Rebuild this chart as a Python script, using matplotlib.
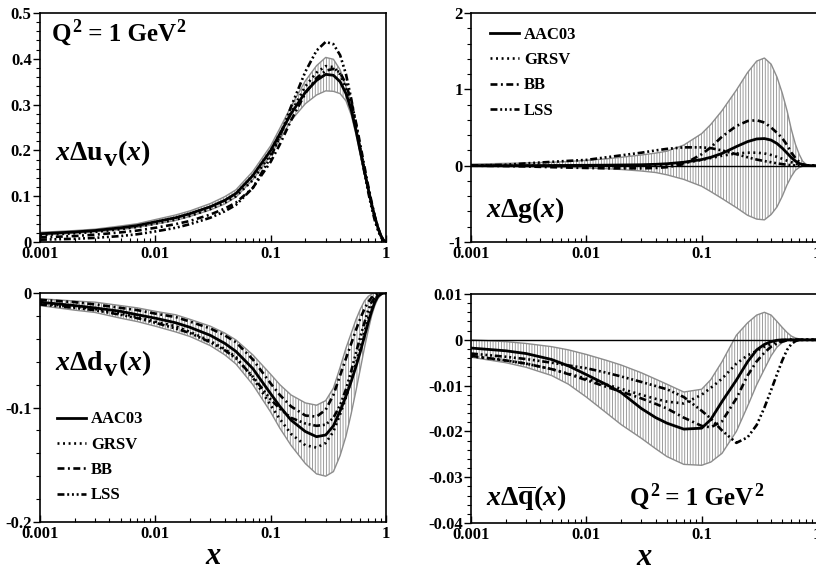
import matplotlib
matplotlib.use('Agg')
import matplotlib.pyplot as plt
from matplotlib.ticker import FixedLocator, LogLocator, NullFormatter, MultipleLocator
from matplotlib.transforms import offset_copy

plt.rcParams['font.family'] = ['Liberation Serif', 'DejaVu Serif']
plt.rcParams['font.weight'] = 'bold'
plt.rcParams['axes.unicode_minus'] = False
plt.rcParams['mathtext.fontset'] = 'custom'
plt.rcParams['mathtext.rm'] = 'Liberation Serif:bold'
plt.rcParams['mathtext.bf'] = 'Liberation Serif:bold'
plt.rcParams['mathtext.it'] = 'Liberation Serif:italic'
plt.rcParams['hatch.linewidth'] = 0.6
plt.rcParams['lines.scale_dashes'] = False

# ---- x Delta u_v ----
x_uv = [0.001, 0.002, 0.003, 0.005, 0.007, 0.01, 0.015, 0.02, 0.03, 0.04, 0.05, 0.07, 0.1, 0.12, 0.15, 0.2,
        0.25, 0.3, 0.35, 0.4, 0.45, 0.5, 0.55, 0.6, 0.65, 0.7, 0.75, 0.8, 0.85, 0.9, 0.95, 1.0]
uv_aac = [0.018, 0.022, 0.025, 0.031, 0.036, 0.044, 0.053, 0.062, 0.077, 0.091, 0.106, 0.145, 0.200, 0.236, 0.280, 0.327,
          0.353, 0.366, 0.364, 0.350, 0.324, 0.288, 0.243, 0.197, 0.155, 0.117, 0.083, 0.055, 0.032, 0.015, 0.004, 0.0]
uv_hi = [0.021, 0.025, 0.028, 0.035, 0.040, 0.049, 0.059, 0.068, 0.084, 0.099, 0.114, 0.154, 0.210, 0.248, 0.296, 0.352,
         0.385, 0.403, 0.399, 0.376, 0.340, 0.299, 0.252, 0.205, 0.162, 0.123, 0.088, 0.059, 0.035, 0.017, 0.005, 0.0]
uv_lo = [0.015, 0.019, 0.022, 0.027, 0.032, 0.039, 0.047, 0.056, 0.070, 0.083, 0.098, 0.136, 0.190, 0.224, 0.265, 0.302,
         0.321, 0.330, 0.329, 0.324, 0.308, 0.277, 0.234, 0.189, 0.148, 0.111, 0.078, 0.051, 0.029, 0.013, 0.003, 0.0]
uv_grsv = [0.015, 0.019, 0.022, 0.028, 0.033, 0.040, 0.049, 0.057, 0.072, 0.086, 0.100, 0.135, 0.192, 0.232, 0.283, 0.340,
           0.370, 0.384, 0.382, 0.366, 0.336, 0.296, 0.250, 0.202, 0.158, 0.118, 0.083, 0.054, 0.031, 0.014, 0.004, 0.0]
uv_bb = [0.010, 0.013, 0.016, 0.021, 0.025, 0.031, 0.039, 0.046, 0.060, 0.073, 0.086, 0.118, 0.175, 0.213, 0.265, 0.325,
         0.358, 0.374, 0.378, 0.370, 0.345, 0.307, 0.260, 0.211, 0.165, 0.123, 0.087, 0.056, 0.032, 0.014, 0.004, 0.0]
uv_lss = [0.005, 0.007, 0.009, 0.013, 0.017, 0.023, 0.031, 0.039, 0.053, 0.067, 0.081, 0.118, 0.185, 0.230, 0.295, 0.372,
          0.418, 0.437, 0.432, 0.408, 0.366, 0.312, 0.255, 0.200, 0.152, 0.110, 0.075, 0.047, 0.026, 0.011, 0.003, 0.0]

# ---- x Delta g ----
x_g = x_uv
g_aac = [0.0, 0.0, 0.001, 0.002, 0.003, 0.005, 0.007, 0.009, 0.012, 0.018, 0.025, 0.045, 0.08, 0.11, 0.16, 0.25,
         0.315, 0.35, 0.355, 0.335, 0.29, 0.23, 0.165, 0.105, 0.06, 0.03, 0.012, 0.004, 0.001, 0.0, 0.0, 0.0]
g_hi = [0.02, 0.03, 0.035, 0.045, 0.055, 0.07, 0.09, 0.11, 0.14, 0.165, 0.19, 0.27, 0.42, 0.54, 0.72, 0.99,
        1.22, 1.37, 1.41, 1.33, 1.16, 0.95, 0.72, 0.47, 0.28, 0.15, 0.06, 0.02, 0.005, 0.0, 0.0, 0.0]
g_lo = [-0.01, -0.012, -0.015, -0.02, -0.025, -0.03, -0.04, -0.05, -0.07, -0.09, -0.12, -0.18, -0.27, -0.34, -0.43, -0.55,
        -0.65, -0.70, -0.71, -0.64, -0.54, -0.40, -0.25, -0.14, -0.06, -0.025, -0.008, -0.002, 0.0, 0.0, 0.0, 0.0]
g_grsv = [0.0, 0.0, 0.0, 0.0, 0.0, 0.0, 0.0, 0.0, 0.003, 0.008, 0.015, 0.035, 0.075, 0.10, 0.13, 0.16,
          0.17, 0.17, 0.16, 0.14, 0.115, 0.09, 0.065, 0.045, 0.028, 0.015, 0.007, 0.003, 0.001, 0.0, 0.0, 0.0]
g_bb = [0.0, -0.005, -0.01, -0.02, -0.025, -0.03, -0.035, -0.035, -0.035, -0.03, -0.02, 0.02, 0.15, 0.24, 0.38, 0.52,
        0.585, 0.595, 0.565, 0.50, 0.43, 0.36, 0.27, 0.17, 0.10, 0.05, 0.02, 0.007, 0.002, 0.0, 0.0, 0.0]
g_lss = [0.0, 0.012, 0.03, 0.05, 0.063, 0.075, 0.11, 0.135, 0.17, 0.2, 0.22, 0.24, 0.24, 0.23, 0.20, 0.15,
         0.11, 0.08, 0.06, 0.045, 0.03, 0.02, 0.012, 0.006, 0.002, 0.0, 0.0, 0.0, 0.0, 0.0, 0.0, 0.0]

# ---- x Delta d_v ----
x_dv = x_uv
dv_aac = [-0.008, -0.011, -0.013, -0.016, -0.019, -0.022, -0.026, -0.030, -0.037, -0.044, -0.051, -0.066, -0.088, -0.099, -0.111, -0.121,
          -0.1255, -0.124, -0.116, -0.103, -0.090, -0.077, -0.064, -0.051, -0.038, -0.026, -0.016, -0.008, -0.003, -0.001, 0.0, 0.0]
dv_hi = [-0.005, -0.007, -0.008, -0.011, -0.013, -0.016, -0.019, -0.023, -0.029, -0.035, -0.041, -0.054, -0.071, -0.080, -0.089, -0.096,
         -0.098, -0.094, -0.083, -0.065, -0.048, -0.035, -0.023, -0.014, -0.007, -0.003, -0.001, 0.0, 0.0, 0.0, 0.0, 0.0]
dv_lo = [-0.011, -0.015, -0.017, -0.022, -0.025, -0.029, -0.034, -0.038, -0.046, -0.054, -0.062, -0.080, -0.104, -0.118, -0.133, -0.149,
         -0.158, -0.160, -0.156, -0.142, -0.125, -0.105, -0.085, -0.066, -0.048, -0.033, -0.020, -0.011, -0.005, -0.002, 0.0, 0.0]
dv_grsv = [-0.009, -0.012, -0.014, -0.018, -0.021, -0.025, -0.029, -0.034, -0.042, -0.049, -0.056, -0.074, -0.098, -0.110, -0.123, -0.133,
           -0.135, -0.131, -0.121, -0.106, -0.091, -0.076, -0.061, -0.047, -0.034, -0.022, -0.013, -0.006, -0.002, -0.001, 0.0, 0.0]
dv_bb = [-0.006, -0.008, -0.010, -0.013, -0.015, -0.018, -0.021, -0.025, -0.031, -0.037, -0.043, -0.058, -0.079, -0.089, -0.099, -0.107,
         -0.108, -0.102, -0.089, -0.072, -0.057, -0.044, -0.032, -0.022, -0.014, -0.008, -0.004, -0.002, 0.0, 0.0, 0.0, 0.0]
dv_lss = [-0.010, -0.013, -0.015, -0.019, -0.022, -0.026, -0.031, -0.035, -0.043, -0.050, -0.057, -0.073, -0.093, -0.101, -0.109, -0.114,
          -0.116, -0.115, -0.109, -0.098, -0.084, -0.068, -0.052, -0.038, -0.026, -0.015, -0.008, -0.004, -0.001, 0.0, 0.0, 0.0]

# ---- x Delta qbar ----
x_qb = x_uv
qb_aac = [-0.0018, -0.0024, -0.0030, -0.0043, -0.0057, -0.0076, -0.0098, -0.0115, -0.0150, -0.0170, -0.0182, -0.0195, -0.0193, -0.0174, -0.0135, -0.0088,
          -0.0048, -0.0022, -0.0010, -0.0004, -0.0001, 0.0, 0.0, 0.0, 0.0, 0.0, 0.0, 0.0, 0.0, 0.0, 0.0, 0.0]
qb_hi = [0.0, -0.0004, -0.0008, -0.0015, -0.0022, -0.0032, -0.0045, -0.0055, -0.0072, -0.0086, -0.0097, -0.0114, -0.0108, -0.0087, -0.0048, 0.0010,
         0.0037, 0.0054, 0.0060, 0.0054, 0.0040, 0.0027, 0.0016, 0.0008, 0.0004, 0.0002, 0.0, 0.0, 0.0, 0.0, 0.0, 0.0]
qb_lo = [-0.0038, -0.0050, -0.0060, -0.0078, -0.0097, -0.0125, -0.0160, -0.0185, -0.0215, -0.0238, -0.0255, -0.0272, -0.0274, -0.0267, -0.0248, -0.0200,
         -0.0145, -0.0098, -0.0064, -0.0035, -0.0016, -0.0006, -0.0002, 0.0, 0.0, 0.0, 0.0, 0.0, 0.0, 0.0, 0.0, 0.0]
qb_grsv = [-0.0036, -0.0045, -0.0052, -0.0064, -0.0074, -0.0085, -0.0098, -0.0107, -0.0120, -0.0129, -0.0135, -0.0139, -0.0120, -0.0105, -0.0085, -0.0052,
           -0.0034, -0.0024, -0.0015, -0.0009, -0.0005, -0.0002, 0.0, 0.0, 0.0, 0.0, 0.0, 0.0, 0.0, 0.0, 0.0, 0.0]
qb_bb = [-0.0035, -0.0045, -0.0052, -0.0064, -0.0075, -0.0088, -0.0103, -0.0113, -0.0128, -0.0140, -0.0150, -0.0170, -0.0188, -0.0191, -0.0178, -0.0128,
         -0.0078, -0.0047, -0.0028, -0.0015, -0.0008, -0.0004, -0.0001, 0.0, 0.0, 0.0, 0.0, 0.0, 0.0, 0.0, 0.0, 0.0]
qb_lss = [-0.0030, -0.0037, -0.0042, -0.0050, -0.0056, -0.0062, -0.0072, -0.0080, -0.0092, -0.0101, -0.0108, -0.0125, -0.0155, -0.0172, -0.0198, -0.0225,
          -0.0213, -0.0186, -0.0148, -0.0110, -0.0075, -0.0045, -0.0022, -0.0009, -0.0003, 0.0, 0.0, 0.0, 0.0, 0.0, 0.0, 0.0]

labels = ['AAC03', 'GRSV', 'BB', 'LSS']
styles = [(None, 2.0), ((0, (1.4, 2.6)), 1.9), ((0, (5, 2.5, 1.4, 2.5)), 1.9),
          ((0, (5, 2, 1.4, 2, 1.4, 2, 1.4, 2)), 1.9)]

xticks = [0.001, 0.01, 0.1, 1]
xticklabels = ['0.001', '0.01', '0.1', '1']

fig = plt.figure(figsize=(8.16, 5.72), dpi=100)
W, H = 816.0, 572.0


def panel(left, top, x, hi, lo, curves, ylim, yticks, yticklabels, ystep, zero=False):
    ax = fig.add_axes([left / W, 1 - (top + 229) / H, 346 / W, 229 / H])
    ax.fill_between(x, lo, hi, facecolor='white', edgecolor='#8c8c8c',
                    hatch='||||||', linewidth=0.0, zorder=1)
    ax.plot(x, hi, color='#8c8c8c', lw=1.0, zorder=2)
    ax.plot(x, lo, color='#8c8c8c', lw=1.0, zorder=2)
    if zero:
        ax.axhline(0, color='black', lw=1.0, zorder=2)
    lines = []
    for y, lab, (ls, lw) in zip(curves, labels, styles):
        l, = ax.plot(x, y, color='black', lw=lw, label=lab, zorder=3,
                     linestyle='-' if ls is None else ls)
        lines.append(l)
    ax.set_xscale('log')
    ax.set_xlim(0.001, 1)
    ax.set_ylim(*ylim)
    ax.xaxis.set_major_locator(FixedLocator(xticks))
    ax.set_xticklabels(xticklabels)
    ax.xaxis.set_minor_locator(LogLocator(base=10, subs=range(2, 10)))
    ax.xaxis.set_minor_formatter(NullFormatter())
    ax.yaxis.set_major_locator(FixedLocator(yticks))
    ax.set_yticklabels(yticklabels)
    ax.yaxis.set_minor_locator(MultipleLocator(ystep))
    ax.tick_params(axis='x', which='both', direction='in', top=False, labelsize=12, pad=3)
    ax.tick_params(axis='x', which='major', length=5, width=1)
    ax.tick_params(axis='x', which='minor', length=3, width=0.8)
    ax.tick_params(axis='y', which='both', direction='out', right=False, labelsize=12, pad=1)
    ax.tick_params(axis='y', which='major', length=5, width=1)
    ax.tick_params(axis='y', which='minor', length=3, width=0.8)
    for s in ax.spines.values():
        s.set_linewidth(1.2)
    return ax, lines


ax1, _ = panel(40, 13, x_uv, uv_hi, uv_lo, [uv_aac, uv_grsv, uv_bb, uv_lss],
               (0, 0.5), [0, 0.1, 0.2, 0.3, 0.4, 0.5], ['0', '0.1', '0.2', '0.3', '0.4', '0.5'], 0.02)
ax2, lines2 = panel(471, 13, x_g, g_hi, g_lo, [g_aac, g_grsv, g_bb, g_lss],
                    (-1, 2), [-1, 0, 1, 2], ['-1', '0', '1', '2'], 0.2, zero=True)
ax3, lines3 = panel(40, 293, x_dv, dv_hi, dv_lo, [dv_aac, dv_grsv, dv_bb, dv_lss],
                    (-0.2, 0), [-0.2, -0.1, 0], ['-0.2', '-0.1', '0'], 0.02)
ax4, _ = panel(471, 294, x_qb, qb_hi, qb_lo, [qb_aac, qb_grsv, qb_bb, qb_lss],
               (-0.04, 0.01), [-0.04, -0.03, -0.02, -0.01, 0, 0.01],
               ['-0.04', '-0.03', '-0.02', '-0.01', '0', '0.01'], 0.002, zero=True)

leg_kw = dict(frameon=False, fontsize=12, handlelength=1.75, handletextpad=0.3,
              labelspacing=0.56, borderaxespad=0, borderpad=0, loc='upper left')
ax2.legend(handles=lines2, bbox_to_anchor=(0.055, 0.94), **leg_kw)
ax3.legend(handles=lines3, bbox_to_anchor=(0.049, 0.483), **leg_kw)

renderer = fig.canvas.get_renderer()


def label(ax, x0, y0, pieces):
    # draw text pieces side by side, each with its own size and vertical shift
    dx = 0.0
    for s, size, dy in pieces:
        tr = offset_copy(ax.transAxes, fig=fig, x=dx, y=dy, units='dots')
        t = ax.text(x0, y0, s, transform=tr, fontsize=size, va='baseline')
        dx += t.get_window_extent(renderer).width + 0.5


big = 20
label(ax1, 0.035, 0.878, [('Q', 18, 0), ('2', 13, 9), (' = 1 GeV', 18, 0), ('2', 13, 9)])
label(ax1, 0.043, 0.358, [(r'$x\Delta$u', big, 0), ('v', 19, -6), (r'$($$x$$)$', big, 0)])
label(ax3, 0.043, 0.664, [(r'$x\Delta$d', big, 0), ('v', 19, -6), (r'$($$x$$)$', big, 0)])
ax2.text(0.043, 0.109, r'$x\Delta\mathbf{g}(x)$', transform=ax2.transAxes, fontsize=big)
ax4.text(0.043, 0.079, r'$x\Delta\overline{\mathbf{q}}(x)$', transform=ax4.transAxes, fontsize=big)
label(ax4, 0.459, 0.079, [('Q', 18, 0), ('2', 13, 9), (' = 1 GeV', 18, 0), ('2', 13, 9)])

for ax in (ax3, ax4):
    ax.set_xlabel(r'$x$', fontsize=22, labelpad=0)

fig.savefig('out.png', dpi=100)
